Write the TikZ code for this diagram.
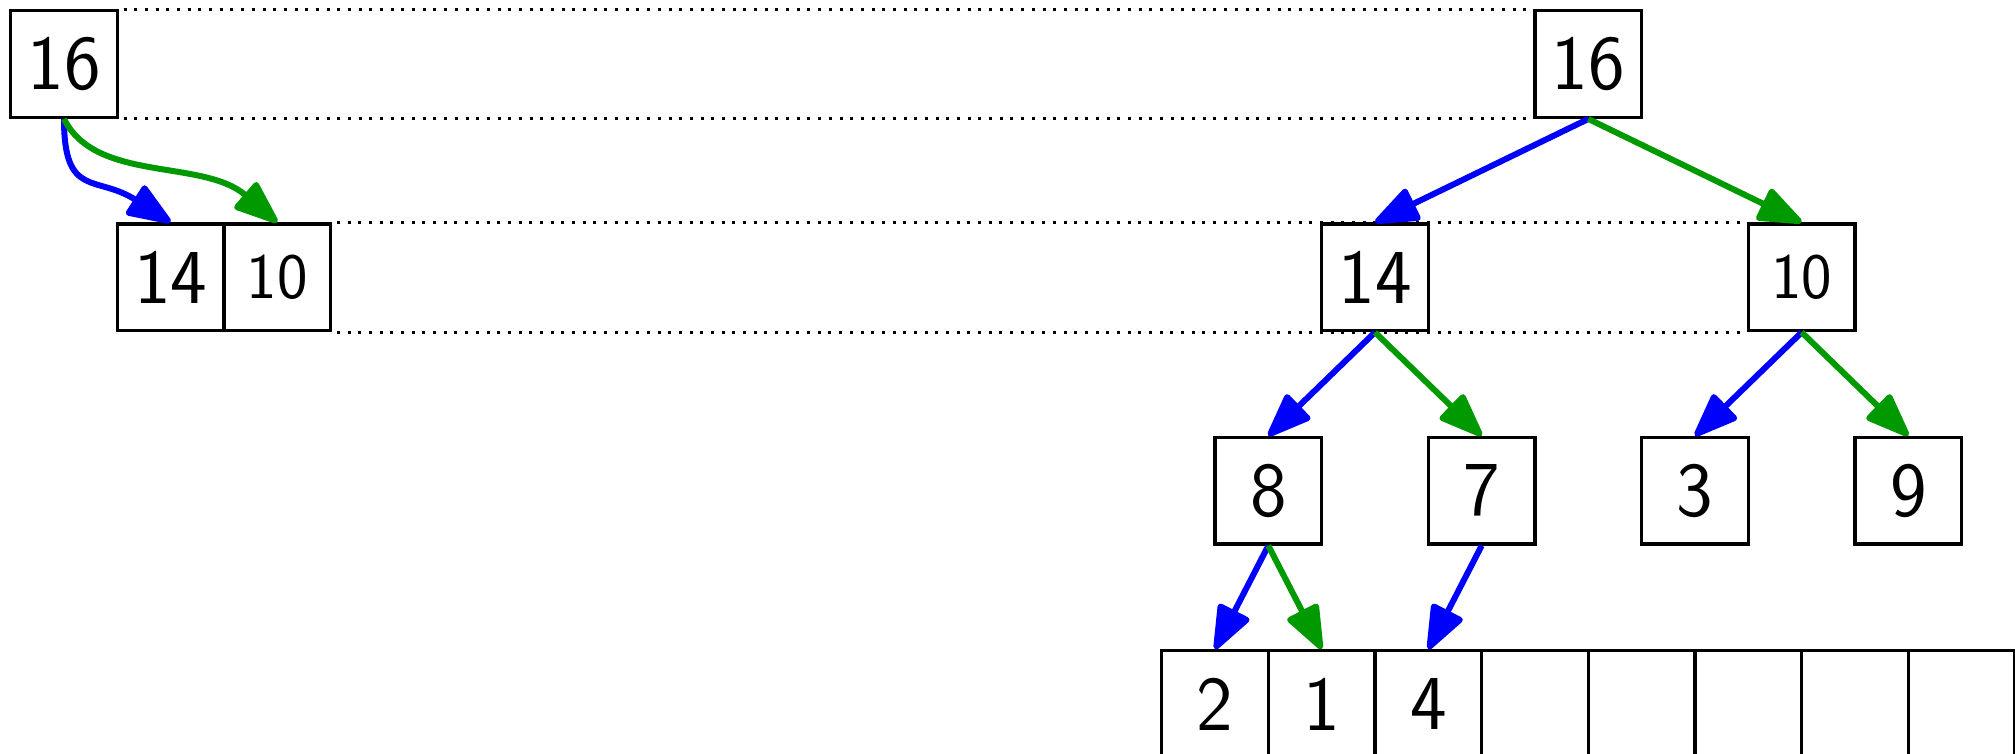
\documentclass[tikz,border=0pt]{standalone}
\usetikzlibrary{arrows.meta}
\begin{document}
\begin{tikzpicture}[
  cell/.style={draw, line width=0.85pt, minimum width=1cm, minimum height=1cm,
               inner sep=0pt, font=\sffamily\huge, fill=white},
  smallnum/.style={font=\sffamily\LARGE},
  guide/.style={line width=0.8pt, dash pattern=on 0.8pt off 2.05pt, dash phase=1.6pt},
  edge/.style={line width=1.6pt, -{Triangle[length=4.6mm,width=3.4mm,round]}},
  lft/.style={edge, blue},
  rgt/.style={edge, green!60!black},
]
\useasboundingbox (0,0) rectangle (18.89,-7.06);
\clip (0,0) rectangle (18.89,-7.06);

% compact layout: root and its two children side by side
\node[cell] (a16) at (0.6,-0.6) {16};
\node[cell] (a14) at (1.6,-2.6) {14};
\node[cell,smallnum] (a10) at (2.6,-2.6) {10};

% tree layout
\node[cell] (t16) at (14.89,-0.6) {16};
\node[cell] (t14) at (12.89,-2.6) {14};
\node[cell,smallnum] (t10) at (16.89,-2.6) {10};
\node[cell] (t8) at (11.89,-4.6) {8};
\node[cell] (t7) at (13.89,-4.6) {7};
\node[cell] (t3) at (15.89,-4.6) {3};
\node[cell] (t9) at (17.89,-4.6) {9};

% bottom array row
\node[cell] (c0) at (11.39,-6.6) {2};
\node[cell] (c1) at (12.39,-6.6) {1};
\node[cell] (c2) at (13.39,-6.6) {4};
\node[cell] (c3) at (14.39,-6.6) {};
\node[cell] (c4) at (15.39,-6.6) {};
\node[cell] (c5) at (16.39,-6.6) {};
\node[cell] (c6) at (17.39,-6.6) {};
\node[cell] (c7) at (18.39,-6.6) {};

% level guides
\draw[guide] (a16.north east) -- (t16.north west);
\draw[guide] (a16.south east) -- (t16.south west);
\draw[guide] (a10.north east) -- (t10.north west);
\draw[guide] (a10.south east) -- (t10.south west);

% child pointers, compact layout
\draw[lft] (a16.south) .. controls +(0,-0.75) and +(-0.7,0.45) .. (a14.north);
\draw[rgt] (a16.south) .. controls +(0.3,-0.6) and +(-0.7,0.6) .. (a10.north);

% child pointers, tree layout
\draw[lft] (t16.south) -- (t14.north);
\draw[rgt] (t16.south) -- (t10.north);
\draw[lft] (t14.south) -- (t8.north);
\draw[rgt] (t14.south) -- (t7.north);
\draw[lft] (t10.south) -- (t3.north);
\draw[rgt] (t10.south) -- (t9.north);
\draw[lft] (t8.south) -- (c0.north);
\draw[rgt] (t8.south) -- (c1.north);
\draw[lft] (t7.south) -- (c2.north);
\end{tikzpicture}
\end{document}
